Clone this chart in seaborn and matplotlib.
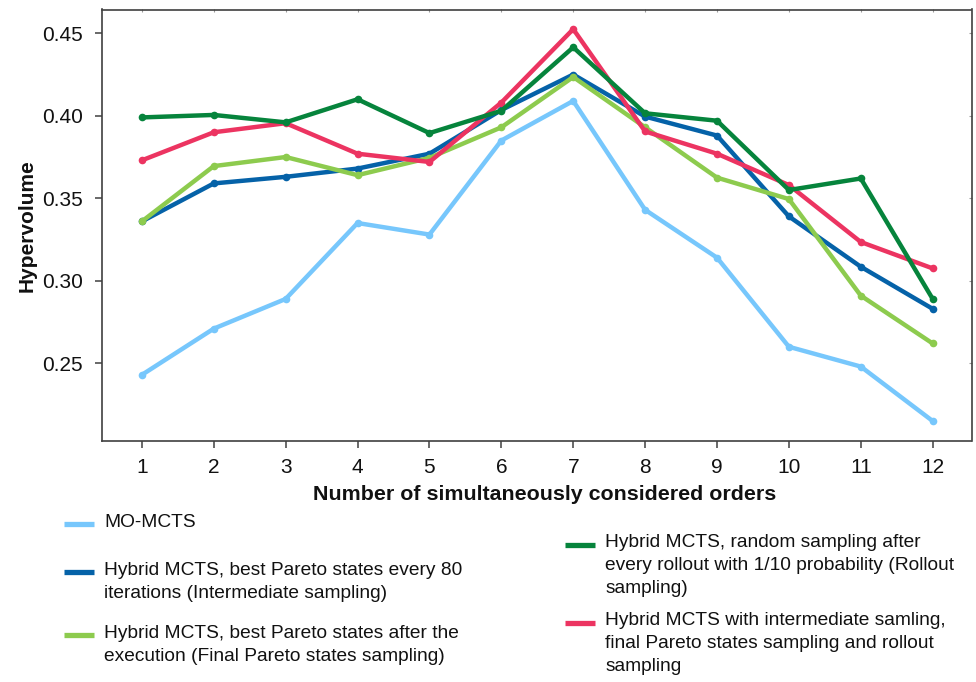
import numpy as np
import pandas as pd
import seaborn as sns
import matplotlib
matplotlib.use("Agg")
import matplotlib.pyplot as plt
from matplotlib.lines import Line2D

# Hypervolume per number of simultaneously considered orders
orders = list(range(1, 13))
mo_mcts = [0.243, 0.271, 0.289, 0.335, 0.328, 0.385, 0.409, 0.343, 0.314, 0.260, 0.248, 0.215]
intermediate = [0.336, 0.359, 0.363, 0.368, 0.377, 0.4035, 0.425, 0.3995, 0.388, 0.339, 0.3085, 0.283]
final_pareto = [0.336, 0.3695, 0.375, 0.364, 0.3745, 0.393, 0.4235, 0.393, 0.3625, 0.3495, 0.291, 0.262]
rollout = [0.399, 0.4005, 0.396, 0.410, 0.3895, 0.403, 0.4415, 0.4015, 0.397, 0.355, 0.362, 0.289]
combined = [0.373, 0.390, 0.3955, 0.377, 0.372, 0.408, 0.4525, 0.3905, 0.377, 0.358, 0.3235, 0.3075]

labels = [
    "MO-MCTS",
    "Hybrid MCTS, best Pareto states every 80\niterations (Intermediate sampling)",
    "Hybrid MCTS, best Pareto states after the\nexecution (Final Pareto states sampling)",
    "Hybrid MCTS, random sampling after\nevery rollout with 1/10 probability (Rollout\nsampling)",
    "Hybrid MCTS with intermediate samling,\nfinal Pareto states sampling and rollout\nsampling",
]
series = [mo_mcts, intermediate, final_pareto, rollout, combined]
colors = ["#77C7FC", "#0562A8", "#8DCB4E", "#06843C", "#EC3461"]
y_ticks = [0.25, 0.30, 0.35, 0.40, 0.45]

palette = dict(zip(labels, colors))
df = pd.DataFrame({
    "orders": np.tile(orders, len(series)),
    "hv": np.concatenate(series),
    "series": np.repeat(labels, len(orders)),
})

sns.set_style("ticks")
plt.rcParams["font.family"] = ["Liberation Sans", "DejaVu Sans"]

W, H = 976, 682
fig = plt.figure(figsize=(W / 100, H / 100), dpi=100)
ax = fig.add_axes([102 / W, 1 - 441 / H, (971.5 - 102) / W, (441 - 9.5) / H])

draw_order = [labels[0], labels[1], labels[2], labels[4], labels[3]]
sns.lineplot(data=df, x="orders", y="hv", hue="series", hue_order=draw_order,
             palette=palette, marker="o", markersize=5.5, markeredgewidth=0,
             linewidth=3.2, solid_capstyle="round", legend=False, ax=ax)

ax.set_xlim(0.445, 12.54)
ax.set_ylim(0.2029, 0.4644)
ax.set_xticks(orders)
ax.set_yticks(y_ticks)
ax.set_yticklabels([f"{v:.2f}" for v in y_ticks])

spine_col = "#404040"
for s in ax.spines.values():
    s.set_visible(True)
    s.set_color(spine_col)
    s.set_linewidth(1.2)
ax.tick_params(axis="x", direction="out", length=5, width=1.1, color=spine_col,
               labelsize=15, pad=7, labelcolor="#111111")
ax.tick_params(axis="y", direction="out", length=5, width=1.1, color=spine_col,
               labelsize=15, pad=9, labelcolor="#111111")

# faint inner ticks along the top and right edges
top = ax.secondary_xaxis("top")
top.set_xticks(orders)
top.tick_params(direction="in", length=2, width=0.8, color="#9a9a9a", labeltop=False)
top.spines["top"].set_visible(False)
right = ax.secondary_yaxis("right")
right.set_yticks(y_ticks)
right.tick_params(direction="in", length=2, width=0.8, color="#9a9a9a", labelright=False)
right.spines["right"].set_visible(False)

ax.set_xlabel("Number of simultaneously considered orders", fontsize=15.4,
              fontweight="bold", color="#111111")
ax.xaxis.set_label_coords(0.5095, -0.102)
ax.set_ylabel("Hypervolume", fontsize=15, fontweight="bold", labelpad=4,
              color="#111111")


def entry_legend(name, left_px, top_px):
    handle = Line2D([], [], color=palette[name], lw=3.8, solid_capstyle="butt")
    leg = fig.legend([handle], [name], loc="upper left",
                     bbox_to_anchor=(left_px / W, 1 - top_px / H),
                     bbox_transform=fig.transFigure, frameon=False, fontsize=13.8,
                     handlelength=1.55, handletextpad=0.55,
                     borderpad=0, borderaxespad=0)
    for t in leg.get_texts():
        t.set_linespacing(1.45)
        t.set_color("#111111")
    return leg


legends = [
    entry_legend(labels[0], 64, 514),
    entry_legend(labels[1], 64, 562),
    entry_legend(labels[2], 64, 625),
    entry_legend(labels[3], 565, 534),
    entry_legend(labels[4], 565, 612),
]

# put each legend swatch beside the first line of its label
fig.canvas.draw()
renderer = fig.canvas.get_renderer()
for leg in legends:
    for h, t in zip(leg.legend_handles, leg.get_texts()):
        n = t.get_text().count("\n") + 1
        bb = t.get_window_extent(renderer)
        yd = np.asarray(h.get_ydata(), dtype=float)
        cur = h.get_transform().transform((0, yd[0]))[1]
        if n == 1:
            target = 0.5 * (bb.y0 + bb.y1) - 1
        else:
            line_h = bb.height / (n + 0.1)
            target = bb.y1 - line_h / 2 - 1
        h.set_ydata(yd + (target - cur) * 72 / fig.dpi)

fig.savefig("out.png", dpi=100)
